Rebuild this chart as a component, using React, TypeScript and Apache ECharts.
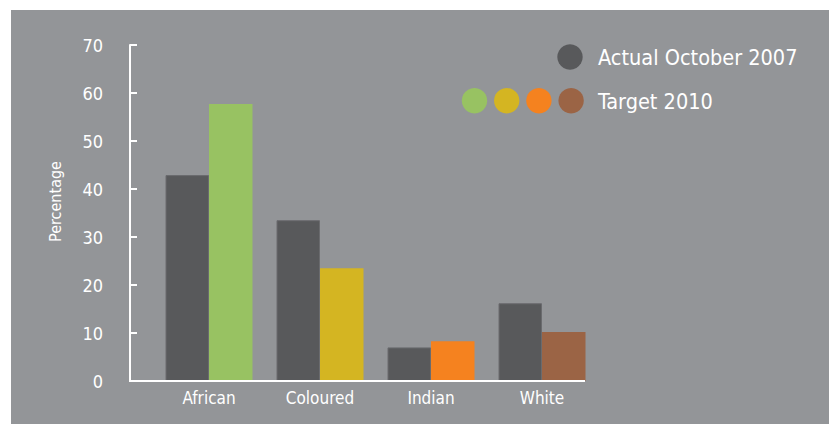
import React, { useEffect, useRef } from "react";
import * as echarts from "echarts";

const categories = ["African", "Coloured", "Indian", "White"];
const actual2007 = [42.9, 33.5, 7.0, 16.2];
const target2010 = [57.7, 23.5, 8.3, 10.2];
const targetColors = ["#98c262", "#d4b522", "#f5821f", "#9b6445"];
const yTicks = { min: 0, max: 70, interval: 10 };
const legendActual = "Actual October 2007";
const legendTarget = "Target 2010";
const yName = "Percentage";

const FONT = "'Liberation Sans Narrow', 'DejaVu Sans Condensed', 'Roboto', sans-serif";
const BG = "#939598";
const DARK = "#58595b";

export default function App() {
  const ref = useRef<HTMLDivElement>(null);
  useEffect(() => {
    if (!ref.current) return;
    const chart = echarts.init(ref.current, undefined, { renderer: "svg" });
    const legendCircles = [
      { type: "circle", shape: { cx: 570, cy: 57, r: 12.7 }, style: { fill: DARK } },
      ...targetColors.map((c, i) => ({
        type: "circle",
        shape: { cx: 474.5 + i * 32.2, cy: 100.7, r: 12.7 },
        style: { fill: c },
      })),
    ];
    chart.setOption({
      animation: false,
      backgroundColor: "#ffffff",
      textStyle: { fontFamily: FONT },
      graphic: [
        { type: "rect", z: -10, silent: true, shape: { x: 11, y: 10, width: 818, height: 414 }, style: { fill: BG } },
        { type: "line", z: 10, shape: { x1: 129, y1: 381, x2: 585, y2: 381 }, style: { stroke: "#ffffff", lineWidth: 2 } },
        ...legendCircles,
        { type: "text", x: 598, y: 57, style: { text: legendActual, fill: "#ffffff", font: `21.5px ${FONT}`, textVerticalAlign: "middle" } },
        { type: "text", x: 598, y: 101, style: { text: legendTarget, fill: "#ffffff", font: `21.5px ${FONT}`, textVerticalAlign: "middle" } },
        {
          type: "text",
          x: 55,
          y: 201.5,
          rotation: Math.PI / 2,
          style: { text: yName, fill: "#ffffff", font: `16px ${FONT}`, textAlign: "center", textVerticalAlign: "middle" },
        },
      ],
      grid: { left: 153.5, top: 45, width: 444, height: 336 },
      xAxis: {
        type: "category",
        data: categories,
        axisLine: { show: false },
        axisTick: { show: false },
        axisLabel: { color: "#ffffff", fontSize: 17, fontFamily: FONT, margin: 8 },
      },
      yAxis: {
        type: "value",
        min: yTicks.min,
        max: yTicks.max,
        interval: yTicks.interval,
        offset: 23.5,
        axisLine: { show: true, lineStyle: { color: "#ffffff", width: 2 } },
        axisTick: { show: true, inside: true, length: 7, lineStyle: { color: "#ffffff", width: 2 } },
        axisLabel: { color: "#ffffff", fontSize: 18, fontFamily: FONT, margin: 27 },
        splitLine: { show: false },
      },
      series: [
        {
          type: "bar",
          name: legendActual,
          data: actual2007,
          barWidth: 43.5,
          barGap: "0%",
          itemStyle: { color: DARK, borderColor: "#6a6b6e", borderWidth: 1 },
        },
        {
          type: "bar",
          name: legendTarget,
          data: target2010.map((v, i) => ({ value: v, itemStyle: { color: targetColors[i] } })),
          barWidth: 43.5,
          barGap: "0%",
        },
      ],
    });
    return () => chart.dispose();
  }, []);
  return (
    <div style={{ position: "absolute", left: 0, top: 0, width: 830, height: 425 }}>
      <div ref={ref} style={{ width: 830, height: 425 }} />
    </div>
  );
}
